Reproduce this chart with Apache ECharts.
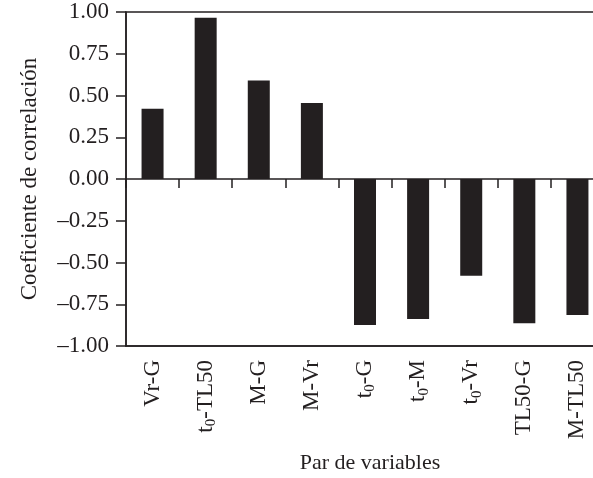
<!DOCTYPE html>
<html>
<head>
<meta charset="utf-8">
<script src="https://cdn.jsdelivr.net/npm/echarts@6/dist/echarts.min.js"></script>
<style>
  html, body { margin: 0; padding: 0; background: #fff; }
  #chart { width: 593px; height: 478px; }
</style>
</head>
<body>
<div id="chart"></div>
<script>
// pares de variables (t{sub|0} = t subindice 0)
const pairs = ['Vr-G', 't{sub|0}-TL50', 'M-G', 'M-Vr', 't{sub|0}-G', 't{sub|0}-M', 't{sub|0}-Vr', 'TL50-G', 'M-TL50']
const coefs = [0.42, 0.966, 0.59, 0.455, -0.874, -0.838, -0.579, -0.864, -0.814]
const yTicks = [-1, -0.75, -0.5, -0.25, 0, 0.25, 0.5, 0.75, 1]

const ink = '#231f20'
const font = 'Liberation Serif'

const chart = echarts.init(document.getElementById('chart'))
chart.setOption({
    animation: false,
    textStyle: { fontFamily: font },
    grid: {
        left: 126,
        right: -11,
        top: 12,
        bottom: 132,
        containLabel: false,
        outerBoundsMode: 'none',
        show: true,
        borderColor: ink,
        borderWidth: 1.5
    },
    xAxis: [
        {
            // eje inferior: etiquetas y titulo
            type: 'category',
            data: pairs,
            position: 'bottom',
            axisLine: { onZero: false, lineStyle: { color: ink, width: 1.5 } },
            axisTick: { show: false },
            axisLabel: {
                interval: 0,
                rotate: 90,
                margin: 14,
                color: ink,
                fontSize: 23,
                fontFamily: font,
                rich: {
                    sub: { fontSize: 15, fontFamily: font, color: ink, verticalAlign: 'bottom', padding: [11, 0, 0, 0] }
                }
            },
            name: 'Par de variables',
            nameLocation: 'middle',
            nameGap: 106,
            nameTextStyle: { color: ink, fontSize: 22, fontFamily: font, padding: [0, 0, 0, 10] }
        },
        {
            // linea del cero con marcas hacia abajo
            type: 'category',
            data: pairs,
            position: 'top',
            axisLine: { onZero: true, lineStyle: { color: ink, width: 1.5 } },
            axisTick: { show: true, interval: 0, inside: true, length: 9, lineStyle: { color: ink, width: 1.5 } },
            axisLabel: { show: false, interval: 0 }
        }
    ],
    yAxis: {
        type: 'value',
        min: yTicks[0],
        max: yTicks[yTicks.length - 1],
        interval: 0.25,
        splitLine: { show: false },
        axisLine: { show: true, lineStyle: { color: ink, width: 1.5 } },
        axisTick: { show: true, length: 10, lineStyle: { color: ink, width: 1.5 } },
        axisLabel: {
            margin: 17,
            color: ink,
            fontSize: 23,
            fontFamily: font,
            showMinLabel: true,
            showMaxLabel: true,
            formatter: v => (v < 0 ? '\u2013' : '') + Math.abs(v).toFixed(2)
        },
        name: 'Coeficiente de correlación',
        nameLocation: 'middle',
        nameGap: 85,
        nameTextStyle: { color: ink, fontSize: 23, fontFamily: font }
    },
    series: [{
        type: 'bar',
        data: coefs,
        barWidth: 22,
        itemStyle: { color: ink }
    }]
})
</script>
</body>
</html>
